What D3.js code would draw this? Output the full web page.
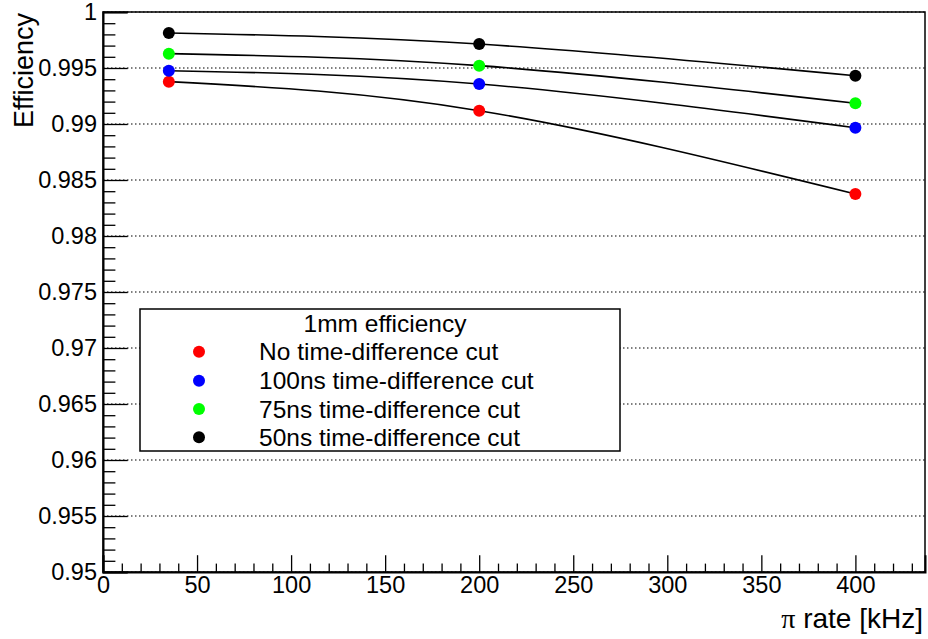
<!DOCTYPE html>
<html>
<head>
<meta charset="utf-8">
<script src="https://cdn.jsdelivr.net/npm/d3@7"></script>
<style>
  body{margin:0;background:#fff;}
  svg{display:block;}
  text{font-family:"Liberation Sans",Arial,Helvetica,sans-serif;fill:#000;}
</style>
</head>
<body>
<svg id="display" width="928" height="639"></svg>
<script>
// data
const rates=[35,200,400];
const eff_nocut=[0.99378,0.99119,0.98375];
const eff_100ns=[0.99476,0.99357,0.98967];
const eff_75ns=[0.99628,0.99521,0.99185];
const eff_50ns=[0.99813,0.99714,0.99431];

const series_names=["No time-difference cut","100ns time-difference cut","75ns time-difference cut","50ns time-difference cut"];
const series_values=[eff_nocut,eff_100ns,eff_75ns,eff_50ns];
const series_colors=["#ff0000","#0000ff","#00ff00","#000000"];

const y_major=d3.range(0,11).map(i=>+(0.95+i*0.005).toFixed(3));
const y_minor=d3.range(0,51).map(i=>+(0.95+i*0.001).toFixed(3)).filter(v=>!y_major.includes(v));
const x_major=[0,50,100,150,200,250,300,350,400];
const x_minor=d3.range(0,440,10).filter(v=>v%50!==0);

const display=d3.select("#display");
const frame_left=103,frame_right=925,frame_top=12,frame_bottom=572;

const x=d3.scaleLinear().domain([0,437]).range([frame_left,frame_right]);
const y=d3.scaleLinear().domain([0.95,1]).range([frame_bottom,frame_top]);

// y grid (dotted)
display.append("g")
    .selectAll("line")
    .data(y_major)
    .join("line")
    .attr("x1",frame_left)
    .attr("x2",frame_right)
    .attr("y1",d=>y(d))
    .attr("y2",d=>y(d))
    .attr("stroke","#000")
    .attr("stroke-width",1.2)
    .attr("stroke-dasharray","1.5,2.5");

// frame
display.append("rect")
    .attr("x",frame_left)
    .attr("y",frame_top)
    .attr("width",frame_right-frame_left)
    .attr("height",frame_bottom-frame_top)
    .attr("fill","none")
    .attr("stroke","#000")
    .attr("stroke-width",1.5);

// y axis: major ticks with labels, minor ticks
const y_axis=display.append("g")
    .attr("transform","translate("+frame_left+",0)")
    .call(d3.axisLeft(y).tickValues(y_major).tickSize(-24.7).tickPadding(6)
        .tickFormat(d=>d===1?"1":d3.format("~g")(d)));
y_axis.select(".domain").attr("stroke-width",2);
y_axis.selectAll(".tick line").attr("stroke-width",1.3);
y_axis.selectAll("text").style("font-size","23.5px").attr("font-family",null);

const y_axis_minor=display.append("g")
    .attr("transform","translate("+frame_left+",0)")
    .call(d3.axisLeft(y).tickValues(y_minor).tickSize(-12.4).tickFormat(""));
y_axis_minor.select(".domain").remove();
y_axis_minor.selectAll(".tick line").attr("stroke-width",1.3);

// x axis
const x_axis=display.append("g")
    .attr("transform","translate(0,"+frame_bottom+")")
    .call(d3.axisBottom(x).tickValues(x_major).tickSize(-16.8).tickPadding(4));
x_axis.select(".domain").attr("stroke-width",2);
x_axis.selectAll(".tick line").attr("stroke-width",1.3);
x_axis.selectAll("text").style("font-size","23.5px").attr("font-family",null);

const x_axis_minor=display.append("g")
    .attr("transform","translate(0,"+frame_bottom+")")
    .call(d3.axisBottom(x).tickValues(x_minor).tickSize(-8.4).tickFormat(""));
x_axis_minor.select(".domain").remove();
x_axis_minor.selectAll(".tick line").attr("stroke-width",1.3);

// axis titles
display.append("text")
    .attr("transform","translate(33,13) rotate(-90)")
    .style("text-anchor","end")
    .style("font-size","27px")
    .text("Efficiency");

const x_title=display.append("text")
    .attr("x",923)
    .attr("y",628)
    .style("text-anchor","end")
    .style("font-size","28px");
x_title.append("tspan")
    .style("font-family","'Liberation Serif','Times New Roman',serif")
    .text("\u03c0");
x_title.append("tspan").text(" rate [kHz]");

// smooth curves through the points
const curve=d3.line()
    .x(d=>x(d[0]))
    .y(d=>y(d[1]))
    .curve(d3.curveNatural);
for (const values of series_values){
    display.append("path")
        .datum(rates.map((r,i)=>[r,values[i]]))
        .attr("d",curve)
        .attr("fill","none")
        .attr("stroke","#000")
        .attr("stroke-width",1.6);
}

// markers
series_values.forEach((values,k)=>{
    display.append("g")
        .selectAll("circle")
        .data(rates.map((r,i)=>[r,values[i]]))
        .join("circle")
        .attr("cx",d=>x(d[0]))
        .attr("cy",d=>y(d[1]))
        .attr("r",6)
        .attr("fill",series_colors[k]);
});

// legend
const legend=display.append("g");
legend.append("rect")
    .attr("x",140)
    .attr("y",309)
    .attr("width",480)
    .attr("height",142)
    .attr("fill","#fff")
    .attr("stroke","#000")
    .attr("stroke-width",1.5);
legend.append("text")
    .attr("x",385)
    .attr("y",323)
    .attr("dominant-baseline","central")
    .style("text-anchor","middle")
    .style("font-size","24.5px")
    .text("1mm efficiency");
const row_y=[351.7,380.7,409,437.3];
series_names.forEach((name,k)=>{
    legend.append("circle")
        .attr("cx",199)
        .attr("cy",row_y[k])
        .attr("r",6)
        .attr("fill",series_colors[k]);
    legend.append("text")
        .attr("x",259)
        .attr("y",row_y[k])
        .attr("dominant-baseline","central")
        .style("font-size","24.5px")
        .text(name);
});
</script>
</body>
</html>
